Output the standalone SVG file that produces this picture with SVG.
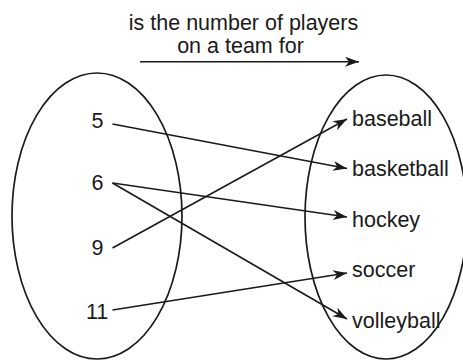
<svg xmlns="http://www.w3.org/2000/svg" width="463" height="360" viewBox="0 0 463 360">
<style>
text{font-family:"Liberation Sans",Arial,sans-serif;font-size:21.5px;fill:#1a1a1a}
.set{fill:none;stroke:#1a1a1a;stroke-width:1.7}
.c line{stroke:#1a1a1a;stroke-width:1.6;marker-end:url(#ah)}
</style>
<defs>
<marker id="ah" markerUnits="userSpaceOnUse" markerWidth="16" markerHeight="11" refX="14" refY="5" orient="auto">
<path d="M0,0 L14,5 L0,10 L4,5 z" fill="#1a1a1a"/>
</marker>
</defs>
<rect width="463" height="360" fill="#fff"/>
<g id="title">
<text x="243.5" y="29.5" text-anchor="middle">is the number of players</text>
<text x="240.5" y="52.5" text-anchor="middle">on a team for</text>
</g>
<g id="domain">
<ellipse class="set" cx="97" cy="216" rx="85" ry="143"/>
<g id="n5"><text x="91.5" y="127.5">5</text></g>
<g id="n6"><text x="91.5" y="190">6</text></g>
<g id="n9"><text x="91.5" y="254.5">9</text></g>
<g id="n11"><text x="86" y="319">11</text></g>
</g>
<g id="range">
<ellipse class="set" cx="386" cy="217" rx="81" ry="142"/>
<g id="baseball"><text x="352" y="125.5">baseball</text></g>
<g id="basketball"><text x="352" y="176">basketball</text></g>
<g id="hockey"><text x="352" y="226.5">hockey</text></g>
<g id="soccer"><text x="352" y="277">soccer</text></g>
<g id="volleyball"><text x="352" y="328">volleyball</text></g>
</g>
<g class="c" id="connectors">
<line x1="140" y1="61.7" x2="359" y2="61.7"/>
<line x1="112.5" y1="124" x2="347" y2="168.5"/>
<line x1="112.5" y1="183" x2="347" y2="217"/>
<line x1="112.5" y1="183" x2="347" y2="319"/>
<line x1="112.5" y1="248" x2="347" y2="119"/>
<line x1="112.5" y1="310" x2="347" y2="273"/>
</g>
</svg>
